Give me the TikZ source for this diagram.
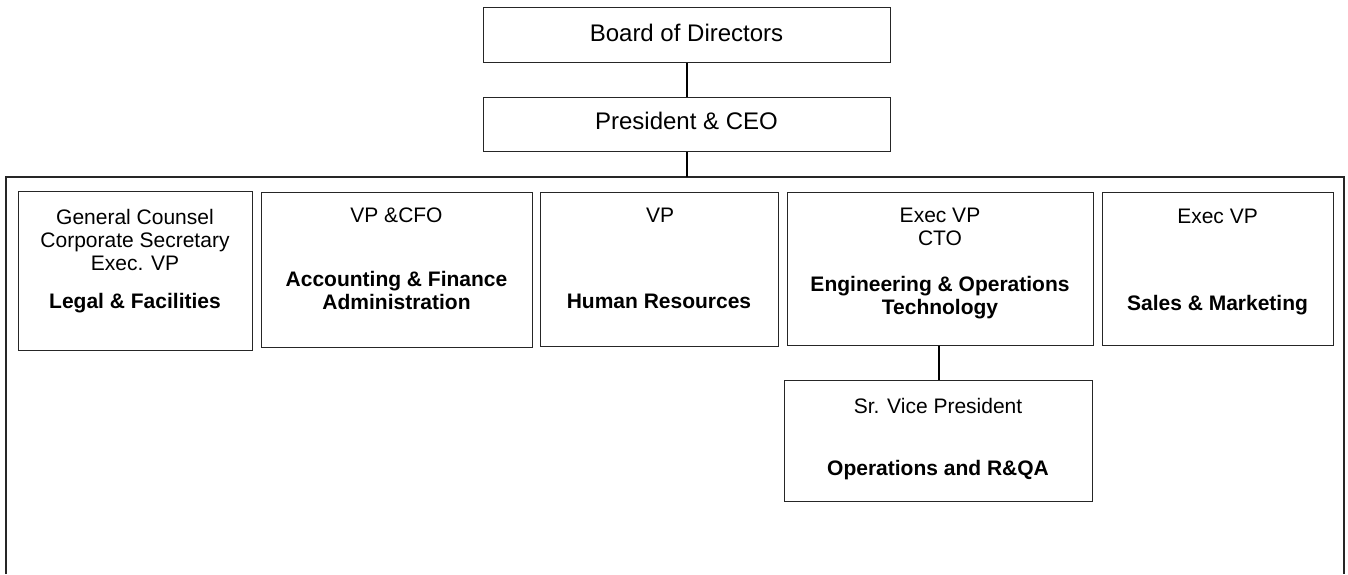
\documentclass[tikz,border=0pt]{standalone}
\usepackage{fontspec}
\setmainfont{Liberation Sans}
\begin{document}
\begin{tikzpicture}[x=0.5pt,y=-0.5pt,
  orgbox/.style={draw=black!85, line width=0.6pt, inner sep=0pt, anchor=north west},
  conn/.style={draw=black, line width=0.9pt},
  frame/.style={draw=black!85, line width=0.7pt},
  toplbl/.style={anchor=base, inner sep=0pt, font=\fontsize{12}{14}\selectfont},
  lbl/.style={anchor=base, inner sep=0pt, font=\fontsize{10.5}{12.5}\selectfont},
  blbl/.style={lbl, font=\fontsize{10.5}{12.5}\selectfont\bfseries}]
\useasboundingbox (0,0) rectangle (1348,574);
% frame
\coordinate (ftl) at (6,177);
\coordinate (ftr) at (1344,177);
\coordinate (fbl) at (6,574);
\coordinate (fbr) at (1344,574);
\draw[frame] (fbl) -- (ftl) -- (ftr) -- (fbr);
% boxes
\node[orgbox, minimum width=203.5pt, minimum height=27.5pt] (board) at (483,7) {};
\node[orgbox, minimum width=203.5pt, minimum height=27pt] (pres) at (483,97) {};
\node[orgbox, minimum width=117pt, minimum height=79.5pt] (b1) at (18,191) {};
\node[orgbox, minimum width=135.5pt, minimum height=77.5pt] (b2) at (261,192) {};
\node[orgbox, minimum width=119pt, minimum height=77pt] (b3) at (540,192) {};
\node[orgbox, minimum width=153pt, minimum height=76.5pt] (b4) at (787,192) {};
\node[orgbox, minimum width=115.5pt, minimum height=76.5pt] (b5) at (1102,192) {};
\node[orgbox, minimum width=154pt, minimum height=60.5pt] (b6) at (784,380) {};
% connectors
\coordinate (ftop) at (687,177);
\draw[conn] (board.south) -- (pres.north);
\draw[conn] (pres.south) -- (pres.south |- ftop);
\draw[conn] (b6.north) -- (b6.north |- b4.south);
% texts
\node[toplbl] (t0) at (686.5,41) {Board of Directors};
\node[toplbl] (t1) at (686.5,129) {President \& CEO};
\node[lbl] (t2a) at (135,224) {General Counsel};
\node[lbl] (t2b) at (135,247) {Corporate Secretary};
\node[lbl] (t2c) at (135,270) {Exec. VP};
\node[blbl] (t2d) at (135,308) {Legal \& Facilities};
\node[lbl] (t3a) at (396.5,222) {VP \&CFO};
\node[blbl] (t3b) at (396.5,286) {Accounting \& Finance};
\node[blbl] (t3c) at (396.5,309) {Administration};
\node[lbl] (t4a) at (660,222) {VP};
\node[blbl] (t4b) at (659,308) {Human Resources};
\node[lbl] (t5a) at (940,222) {Exec VP};
\node[lbl] (t5b) at (940,245) {CTO};
\node[blbl] (t5c) at (940,291) {Engineering \& Operations};
\node[blbl] (t5d) at (940,314) {Technology};
\node[lbl] (t6a) at (1217.5,223) {Exec VP};
\node[blbl] (t6b) at (1217.5,310) {Sales \& Marketing};
\node[lbl] (t7a) at (938,413) {Sr. Vice President};
\node[blbl] (t7b) at (938,475) {Operations and R\&QA};
\end{tikzpicture}
\end{document}
